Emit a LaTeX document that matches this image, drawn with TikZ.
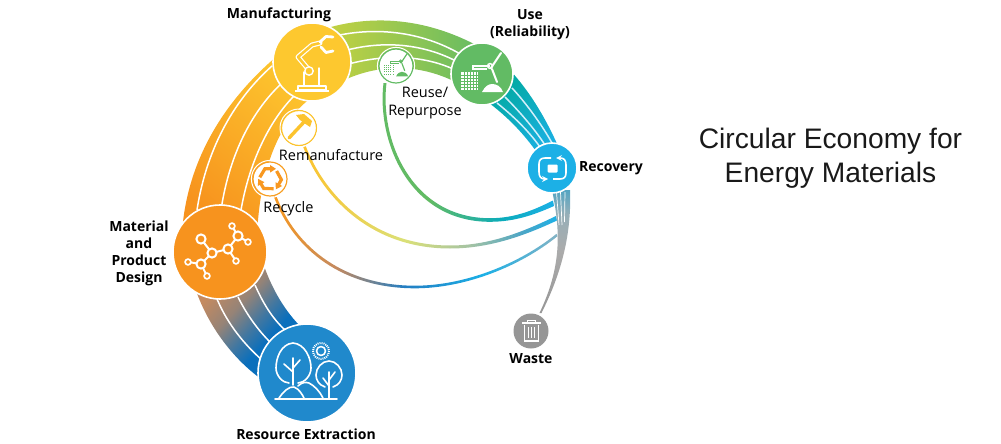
\documentclass[tikz,border=0pt]{standalone}
\usepackage{fontspec}
\setmainfont{Open Sans}
\newfontfamily\titlefont{Liberation Sans}
\definecolor{orangeA}{HTML}{F7931E}
\definecolor{yellowA}{HTML}{FDC82F}
\definecolor{tanA}{HTML}{C48A60}
\definecolor{blueA}{HTML}{0A6FBC}
\definecolor{blueB}{HTML}{2089CC}
\definecolor{limeA}{HTML}{CBD33E}
\definecolor{greenA}{HTML}{62BB64}
\definecolor{tealA}{HTML}{00A99D}
\definecolor{cyanA}{HTML}{1CB0E6}
\definecolor{greyA}{HTML}{969696}
\pgfdeclarehorizontalshading{extractshade}{100bp}{color(0bp)=(tanA);color(30bp)=(tanA);color(42bp)=(tanA!75!blueA);color(52bp)=(tanA!30!blueA);color(60bp)=(blueA);color(100bp)=(blueA)}
\pgfdeclarehorizontalshading{reuseshade}{100bp}{color(0bp)=(greenA);color(25bp)=(greenA);color(40bp)=(greenA);color(60bp)=(tealA!60!cyanA);color(75bp)=(cyanA);color(100bp)=(cyanA)}
\pgfdeclarehorizontalshading{remanshade}{100bp}{color(0bp)=(yellowA);color(25bp)=(yellowA!90!orangeA);color(45bp)=(limeA!70!white);color(58bp)=(greenA!50!greyA!70!white);color(68bp)=(cyanA!60!greyA);color(75bp)=(cyanA);color(100bp)=(cyanA)}
\pgfdeclarehorizontalshading{recycleshade}{100bp}{color(0bp)=(orangeA);color(25bp)=(orangeA!90!yellowA);color(36bp)=(tanA);color(48bp)=(blueA!90!white);color(62bp)=(cyanA);color(75bp)=(cyanA!40!greyA!80!white);color(100bp)=(greyA)}
\pgfdeclareverticalshading{wasteshade}{100bp}{color(0bp)=(greyA);color(25bp)=(greyA);color(50bp)=(greyA!80!white);color(65bp)=(cyanA!20!greyA!80!white);color(75bp)=(cyanA!55!greyA);color(100bp)=(cyanA!55!greyA)}
\tikzset{
	stepline/.style={white,line width=1.5},
	tealline/.style={white!80!cyanA,line width=1.5},
	bigdisc/.style={circle,draw=white,line width=1.6,inner sep=0pt},
	smalldisc/.style={circle,fill=white,line width=1.2,inner sep=0pt,minimum size=34},
	boldlabel/.style={font=\fontsize{14}{17}\selectfont\bfseries,align=center},
	thinlabel/.style={font=\fontsize{14.5}{18}\selectfont,align=center},
	icon/.style={white,line width=2,line cap=round,line join=round}
}
% wind turbine beside a solar panel, #3 ink, #4 paper, #5 size
\def\windicon(#1,#2)[#3][#4]#5{
	\begin{scope}[shift={(#1,#2)},scale=#5]
		\fill[#3] (-21,-2) rectangle (-4,16);
		\foreach \i in {-18,-15,...,-6} {\draw[#4,line width=0.7*#5] (\i,-2) -- (\i,16);}
		\foreach \i in {1,4,...,13} {\draw[#4,line width=0.7*#5] (-21,\i) -- (-4,\i);}
		\draw[#3,line width=1.6*#5] (8,-8) -- (-9,-8) -- (-9,-5) -- (5,-5);
		\draw[#3,line width=2*#5,line cap=round] (9,-6) -- (19,-21);
		\draw[#3,line width=2*#5,line cap=round] (10,-5) -- (15,8);
		\draw[#3,line width=1.5*#5] (8,-8) circle (2.4);
		\fill[#3] (0,18) .. controls (3,12) and (7,10) .. (10,10) .. controls (14,10) and (19,12) .. (21,18) -- cycle;
	\end{scope}
}

\begin{document}
\begin{tikzpicture}[x=1pt,y=-1pt]
	\useasboundingbox (0,0) rectangle (1001,444);

	%%%%% wide bands %%%%%
	\shade[shading=extractshade,shading angle=-42] (190,270) .. controls (200,315) and (230,360) .. (270,385) -- (310,335) .. controls (285,315) and (270,285) .. (262,260) -- cycle;
	\shade[left color=orangeA,right color=yellowA,shading angle=140] (182,232) .. controls (188,150) and (235,85) .. (300,38) -- (312,97) .. controls (275,125) and (260,175) .. (257,235) -- cycle;
	\shade[left color=limeA,right color=greenA] (315,32) .. controls (370,12) and (430,18) .. (485,50) -- (470,90) .. controls (430,65) and (385,60) .. (340,82) -- cycle;
	\shade[left color=tealA,right color=cyanA,shading angle=40] (505,65) .. controls (530,90) and (548,122) .. (562,155) -- (545,165) .. controls (530,140) and (510,118) .. (485,100) -- cycle;

	\draw[stepline] (217,299) .. controls (228,325) and (245,345) .. (262,360);
	\draw[stepline] (238,297) .. controls (247,315) and (258,330) .. (270,342);
	\draw[stepline] (255,285) .. controls (263,303) and (272,318) .. (285,330);
	\draw[stepline] (197,210) .. controls (207,145) and (237,97) .. (272,66);
	\draw[stepline] (221,210) .. controls (230,150) and (255,108) .. (282,83);
	\draw[stepline] (241,210) .. controls (250,158) and (272,118) .. (294,96);
	\draw[stepline] (335,36) .. controls (375,27) and (425,30) .. (470,60);
	\draw[stepline] (340,52) .. controls (380,40) and (425,42) .. (465,66);
	\draw[stepline] (345,65) .. controls (380,55) and (425,52) .. (465,75);
	\draw[tealline] (512,88) .. controls (526,103) and (542,125) .. (552,143);
	\draw[tealline] (505,97) .. controls (518,110) and (534,128) .. (545,145);
	\draw[tealline] (497,103) .. controls (512,115) and (528,130) .. (540,147);

	%%%%% thin return lines %%%%%
	\shade[shading=reuseshade] (383.5,83) .. controls (376.5,141) and (409,221.8) .. (490,221.8) .. controls (515.5,221.8) and (536,214) .. (554,206) -- (553,200.5) .. controls (534,210) and (515,218.2) .. (490,218.2) .. controls (411,218.2) and (379.5,139) .. (386.5,83) -- cycle;
	\shade[shading=remanshade] (303,146.5) .. controls (324,201) and (374,248.5) .. (450,248.5) .. controls (490,248.5) and (526,235) .. (557,220.5) -- (556,216) .. controls (524,231.5) and (490,245.5) .. (450,245.5) .. controls (376,245.5) and (326,199) .. (305.5,145.5) -- cycle;
	\shade[shading=recycleshade] (273.8,196.5) .. controls (294,251) and (344,288.3) .. (415,288.3) .. controls (465,288.3) and (520,266.5) .. (557.5,236.2) -- (556.5,233.8) .. controls (520,263.5) and (465,285.7) .. (415,285.7) .. controls (346,285.7) and (296,249) .. (276.2,195.5) -- cycle;

	%%%%% recovery to waste %%%%%
	\shade[shading=wasteshade] (552,190) .. controls (559,225) and (564,262) .. (539.5,313) -- (541.5,313) .. controls (558,280) and (572,240) .. (570,190) -- cycle;
	\draw[white,line width=0.7] (556.5,192) -- (559,225);
	\draw[white,line width=0.7] (560.5,192) -- (562,225);
	\draw[white,line width=0.7] (565,192) -- (564.5,222);

	%%%%% discs with their icons %%%%%
	\node[bigdisc,fill=orangeA,minimum size=94] (material) at (220,252) {};
	\node[bigdisc,fill=yellowA,minimum size=78] (manufacturing) at (312,62) {};
	\node[bigdisc,fill=greenA,minimum size=62] (use) at (482,74) {};
	\node[bigdisc,fill=cyanA,minimum size=50] (recovery) at (552,168) {};
	\node[bigdisc,fill=blueB,minimum size=98] (resource) at (307,373) {};
	\node[circle,fill=greyA,inner sep=0pt,minimum size=35] (waste) at (531,331) {};
	\node[smalldisc,draw=greenA,minimum size=34] (reuse) at (396,66) {};
	\node[smalldisc,draw=yellowA!90!orangeA,minimum size=35] (reman) at (299,128) {};
	\node[smalldisc,draw=orangeA!80!yellowA,minimum size=34] (recycle) at (270,179) {};
	\draw[white,line width=1] (396,66) circle (18.6);
	\draw[white,line width=1] (299,128) circle (19);
	\draw[white,line width=1] (270,179) circle (18.6);

	% molecule
	\draw[icon] (201,239) -- (212,253) -- (228,249) -- (238,236) -- (232,226);
	\draw[icon] (238,236) -- (248,242);
	\draw[icon] (228,249) -- (236,261);
	\draw[icon] (212,253) -- (201,264) -- (188,262);
	\draw[icon] (201,264) -- (207,276);
	\foreach \x/\y in {201/239,212/253,228/249,238/236,201/264} {\draw[icon,fill=orangeA] (\x,\y) circle (4.6);}
	\foreach \x/\y in {232/226,248/242,236/261,188/262,207/276} {\draw[icon,fill=orangeA,line width=1.7] (\x,\y) circle (2.9);}

	% robot arm
	\draw[icon,line width=1.4,line cap=butt] (295,91) -- (329,91);
	\draw[icon,line width=1.4,fill=yellowA] (298,90) -- (326,90) -- (326,86) -- (298,86) -- cycle;
	\draw[icon,line width=1.4] (304,86) -- (304,72) (319,86) -- (319,68);
	\draw[icon,line width=5] (309,70) -- (298,57) -- (312,45) -- (320,43);
	\draw[yellowA,line width=2.6,line join=round] (309,70) -- (298,57) -- (312,45) -- (320,43);
	\draw[icon,fill=yellowA,line width=1.4] (309,71) circle (4.2);
	\draw[icon,line width=2.8] (320,42) -- (326,36.5) -- (333,37);
	\draw[icon,line width=2.8] (321,47) -- (326,52.5) -- (333,51);

	\windicon(482,74)[white][greenA]{1}
	\windicon(396,66)[greenA][white]{0.58}

	% return arrows
	\draw[icon,line width=1.6,line cap=butt,-stealth] (551,158) -- (545,158) .. controls (541,158) and (539,160) .. (539,164) -- (539,172) .. controls (539,177) and (541,179) .. (545,179) -- (548,179);
	\draw[icon,line width=1.6,line cap=butt,-stealth] (553,179) -- (560,179) .. controls (564,179) and (566,177) .. (566,173) -- (566,165) .. controls (566,160) and (564,158) .. (560,158) -- (556,158);
	\fill[white,rounded corners=1] (547.5,164.5) rectangle (557.5,172.5);

	% trees
	\draw[icon,line width=1.6] (275,399) -- (337,399);
	\draw[icon,line width=1.6] (293,385) -- (293,358) (293,372) -- (284,364) (293,368) -- (300,360);
	\draw[icon,line width=1.6] (289,383) .. controls (283,383) and (276,376) .. (276,368) .. controls (276,358) and (281,344) .. (293,343) .. controls (305,344) and (311,358) .. (311,368) .. controls (311,376) and (304,383) .. (298,383);
	\draw[icon,line width=1.6] (329,399) -- (329,372) (329,386) -- (323,378) (329,380) -- (335,372);
	\draw[icon,line width=1.6] (325,387) .. controls (319,385) and (316,380) .. (316,375) .. controls (316,368) and (322,361) .. (329,361) .. controls (336,361) and (342,368) .. (342,375) .. controls (342,380) and (339,385) .. (333,387);
	\draw[icon,line width=1.6] (279,398) .. controls (283,392) and (289,386) .. (294,387) .. controls (299,389) and (302,394) .. (304,398);
	\draw[icon,line width=1.6] (298,386) .. controls (302,382) and (306,382) .. (309,383) .. controls (315,386) and (320,392) .. (323,398);
	\draw[icon,line width=1.6,line cap=butt] (321,351) circle (4.5);
	\draw[icon,line width=2,line cap=butt,dash pattern=on 1 off 1] (321,351) circle (8);

	% hammer
	\draw[yellowA!90!orangeA,line width=3.4,line cap=round] (289,138) -- (304,122);
	\fill[yellowA!90!orangeA] (296,115) -- (304,114) -- (312,121) -- (310,127) -- (304,123) -- (300,120) -- cycle;

	% recycling arrows
	\foreach \a in {0,120,240} {
		\begin{scope}[shift={(270,179)},rotate=\a,scale=0.85]
			\draw[orangeA!90!yellowA,line width=3.2] (-12,-2) -- (-6,-12) -- (1,-12);
			\fill[orangeA!90!yellowA] (0,-16.5) -- (7,-12) -- (0,-7.5) -- cycle;
		\end{scope}
	}

	% bin
	\draw[white,line width=1.2] (522,323) -- (541,323);
	\draw[white,line width=1] (527.5,323) -- (527.5,320.5) -- (535.5,320.5) -- (535.5,323);
	\draw[white,line width=1.2] (524.5,325) -- (524.5,341) -- (538.5,341) -- (538.5,325);
	\foreach \x in {528.5,531.5,534.5} {\draw[white,line width=1] (\x,327) -- (\x,338);}

	%%%%% labels %%%%%
	\node[boldlabel] (manufacturinglabel) at (279,15) {Manufacturing};
	\node[boldlabel] (uselabel) at (530,25) {Use\\(Reliability)};
	\node[thinlabel] (reuselabel) at (425,103.5) {Reuse/\\Repurpose};
	\node[thinlabel] (remanlabel) at (331,155.5) {Remanufacture};
	\node[thinlabel] (recyclelabel) at (288.5,209) {Recycle};
	\node[boldlabel] (recoverylabel) at (611,168.5) {Recovery};
	\node[boldlabel] (materiallabel) at (139,253) {Material\\and\\Product\\Design};
	\node[boldlabel] (wastelabel) at (531,359) {Waste};
	\node[boldlabel] (resourcelabel) at (306,434) {Resource Extraction};
	\node[font=\fontsize{28.2}{34}\selectfont\titlefont,align=center,text=black!90] (title) at (830.5,158.5) {Circular Economy for\\Energy Materials};
\end{tikzpicture}
\end{document}
